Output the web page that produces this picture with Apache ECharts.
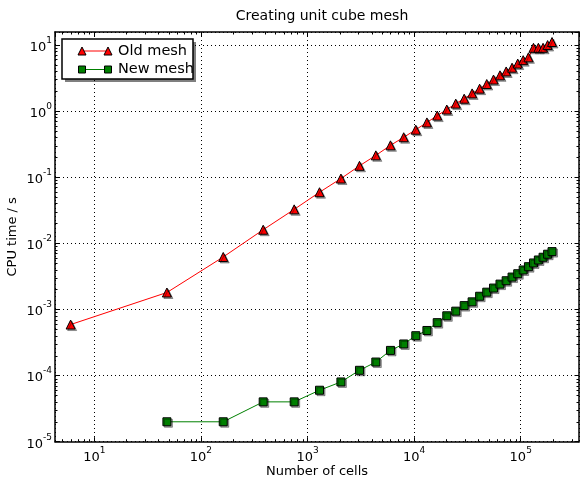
<!DOCTYPE html>
<html><head><meta charset="utf-8">
<script src="https://cdn.jsdelivr.net/npm/echarts@6/dist/echarts.min.js"></script>
<style>html,body{margin:0;padding:0;background:#fff}#c{width:581px;height:480px}</style>
</head><body><div id="c"></div>
<script>
// Number of cells (unit cube meshes)
const oldCells = [6, 48, 162, 384, 750, 1296, 2058, 3072, 4374, 6000, 7986, 10368, 13182, 16464, 20250, 24576, 29478, 34992, 41154, 48000, 55566, 63888, 73002, 82944, 93750, 105456, 118098, 131712, 146334, 162000, 178746, 196608];
const oldTime = [5.9e-4, 1.8e-3, 6.2e-3, 0.016, 0.0325, 0.059, 0.095, 0.148, 0.213, 0.302, 0.40, 0.52, 0.67, 0.85, 1.05, 1.29, 1.53, 1.84, 2.17, 2.55, 2.98, 3.45, 3.95, 4.5, 5.2, 5.85, 6.45, 9.0, 9.0, 9.0, 9.9, 11.0];
const newCells = [48, 162, 384, 750, 1296, 2058, 3072, 4374, 6000, 7986, 10368, 13182, 16464, 20250, 24576, 29478, 34992, 41154, 48000, 55566, 63888, 73002, 82944, 93750, 105456, 118098, 131712, 146334, 162000, 178746, 196608];
const newTime = [2e-5, 2e-5, 4e-5, 4e-5, 6e-5, 8e-5, 1.2e-4, 1.6e-4, 2.4e-4, 3e-4, 4e-4, 4.8e-4, 6.3e-4, 8.0e-4, 9.4e-4, 1.14e-3, 1.3e-3, 1.58e-3, 1.82e-3, 2.1e-3, 2.41e-3, 2.71e-3, 3.08e-3, 3.46e-3, 3.94e-3, 4.42e-3, 5.03e-3, 5.58e-3, 6.14e-3, 6.82e-3, 7.47e-3];
const xTickExps = [1, 2, 3, 4, 5];
const yTickExps = [-5, -4, -3, -2, -1, 0, 1];
const seriesNames = ['Old mesh', 'New mesh'];

(function () {
const X_MIN = 4.28, X_MAX = 3.52e5, Y_MIN = 1e-5, Y_MAX = 15.6;
const FONT = 'DejaVu Sans';

function expLabel(exps) {
  return function (v) {
    const l = Math.log10(v);
    const e = Math.round(l);
    if (Math.abs(l - e) > 1e-6 || exps.indexOf(e) < 0) return '';
    return '{b|10}{s|' + (e < 0 ? '-' : '') + Math.abs(e) + '}';
  };
}
const rich = {
  b: {fontSize: 13, fontFamily: FONT, color: '#000', lineHeight: 18, verticalAlign: 'bottom'},
  s: {fontSize: 9, fontFamily: FONT, color: '#000', lineHeight: 10, verticalAlign: 'top'}
};
const axisLine = {show: true, onZero: false, lineStyle: {color: '#000', width: 1.5}};
const tick = {show: true, inside: true, length: 4.5, lineStyle: {color: '#000', width: 1}};
const split = {show: true, lineStyle: {color: '#000', width: 1, type: [1, 3]}};

const chart = echarts.init(document.getElementById('c'), null, {renderer: 'canvas'});
chart.setOption({
  animation: false,
  backgroundColor: '#fff',
  title: {text: 'Creating unit cube mesh', left: 317, textAlign: 'center', top: 4,
    textStyle: {fontFamily: FONT, fontSize: 14, fontWeight: 'normal', color: '#000'}},
  grid: {left: 55, right: 2, top: 32, bottom: 38.3, containLabel: false, outerBoundsMode: 'none'},
  xAxis: [
    {type: 'log', min: X_MIN, max: X_MAX, logBase: 10, position: 'bottom',
      name: 'Number of cells', nameLocation: 'middle', nameGap: 23, nameMoveOverlap: false,
      nameTextStyle: {fontFamily: FONT, fontSize: 13, color: '#000'},
      axisLine: axisLine, axisTick: tick, splitLine: split,
      axisLabel: {formatter: expLabel(xTickExps), rich: rich, margin: 4, showMinLabel: false, showMaxLabel: false}},
    {type: 'log', min: X_MIN, max: X_MAX, logBase: 10, position: 'top',
      axisLine: axisLine, axisTick: tick, splitLine: {show: false}, axisLabel: {show: false}}
  ],
  yAxis: [
    {type: 'log', min: Y_MIN, max: Y_MAX, logBase: 10, position: 'left',
      name: 'CPU time / s', nameLocation: 'middle', nameGap: 36, nameMoveOverlap: false,
      nameTextStyle: {fontFamily: FONT, fontSize: 13, color: '#000'},
      axisLine: axisLine, axisTick: tick, splitLine: split,
      axisLabel: {formatter: expLabel(yTickExps), rich: rich, margin: 3, showMinLabel: true, showMaxLabel: false}},
    {type: 'log', min: Y_MIN, max: Y_MAX, logBase: 10, position: 'right',
      axisLine: axisLine, axisTick: tick, splitLine: {show: false}, axisLabel: {show: false}}
  ],
  series: [
    {name: seriesNames[0], type: 'line', xAxisIndex: 0, yAxisIndex: 0,
      data: oldCells.map((c, i) => [c, oldTime[i]]),
      symbol: 'triangle', symbolSize: 9, showAllSymbol: true,
      lineStyle: {color: '#ff0000', width: 1},
      itemStyle: {color: '#ff0000', borderColor: '#000', borderWidth: 1,
        shadowColor: 'rgba(0,0,0,0.35)', shadowOffsetX: 1.5, shadowOffsetY: 1.5, shadowBlur: 0}},
    {name: seriesNames[1], type: 'line', xAxisIndex: 0, yAxisIndex: 0,
      data: newCells.map((c, i) => [c, newTime[i]]),
      symbol: 'rect', symbolSize: 8, showAllSymbol: true,
      lineStyle: {color: '#008000', width: 1},
      itemStyle: {color: '#008000', borderColor: '#000', borderWidth: 1,
        shadowColor: 'rgba(0,0,0,0.35)', shadowOffsetX: 1.5, shadowOffsetY: 1.5, shadowBlur: 0}}
  ]
});

// minor ticks (2..9 x 10^k) on all four sides, placed through the axis scales
const g = [];
const pTop = chart.convertToPixel({yAxisIndex: 0}, Y_MAX);
const pBot = chart.convertToPixel({yAxisIndex: 0}, Y_MIN);
const pLft = chart.convertToPixel({xAxisIndex: 0}, X_MIN);
const pRgt = chart.convertToPixel({xAxisIndex: 0}, X_MAX);
const ML = 2.5;
const ls = {stroke: '#000', lineWidth: 1};
for (let k = 0; k <= 5; k++) for (let m = 2; m <= 9; m++) {
  const v = m * Math.pow(10, k);
  if (v <= X_MIN || v >= X_MAX) continue;
  const x = Math.round(chart.convertToPixel({xAxisIndex: 0}, v)) + 0.5;
  g.push({type: 'line', silent: true, shape: {x1: x, y1: pBot, x2: x, y2: pBot - ML}, style: ls, z: 5});
  g.push({type: 'line', silent: true, shape: {x1: x, y1: pTop, x2: x, y2: pTop + ML}, style: ls, z: 5});
}
for (let k = -5; k <= 1; k++) for (let m = 2; m <= 9; m++) {
  const v = m * Math.pow(10, k);
  if (v <= Y_MIN || v >= Y_MAX) continue;
  const y = Math.round(chart.convertToPixel({yAxisIndex: 0}, v)) + 0.5;
  g.push({type: 'line', silent: true, shape: {x1: pLft, y1: y, x2: pLft + ML, y2: y}, style: ls, z: 5});
  g.push({type: 'line', silent: true, shape: {x1: pRgt, y1: y, x2: pRgt - ML, y2: y}, style: ls, z: 5});
}

// legend box (matplotlib style, with shadow)
const LX = 62, LY = 39, LW = 131, LH = 40;
g.push({type: 'rect', shape: {x: LX + 3, y: LY + 3, width: LW, height: LH}, style: {fill: 'rgba(0,0,0,0.5)'}, z: 20});
g.push({type: 'rect', shape: {x: LX, y: LY, width: LW, height: LH}, style: {fill: '#fff', stroke: '#000', lineWidth: 1.5}, z: 21});
function tri(cx, cy, s) {
  return {type: 'polygon', shape: {points: [[cx, cy - s / 2], [cx - s / 2, cy + s / 2], [cx + s / 2, cy + s / 2]]},
    style: {fill: '#ff0000', stroke: '#000', lineWidth: 1}, z: 23};
}
function sq(cx, cy, s) {
  return {type: 'rect', shape: {x: cx - s / 2, y: cy - s / 2, width: s, height: s},
    style: {fill: '#008000', stroke: '#000', lineWidth: 1}, z: 23};
}
const r1 = 51, r2 = 69.5, a = 82, b = 108;
g.push({type: 'line', shape: {x1: a, y1: r1, x2: b, y2: r1}, style: {stroke: '#ff0000', lineWidth: 1}, z: 22});
g.push(tri(a, r1, 8), tri(b, r1, 8));
g.push({type: 'line', shape: {x1: a, y1: r2, x2: b, y2: r2}, style: {stroke: '#008000', lineWidth: 1}, z: 22});
g.push(sq(a, r2, 7), sq(b, r2, 7));
g.push({type: 'text', x: 118, y: r1, style: {text: seriesNames[0], fontFamily: FONT, fontSize: 14.5, fill: '#000', verticalAlign: 'middle'}, z: 23});
g.push({type: 'text', x: 118, y: r2, style: {text: seriesNames[1], fontFamily: FONT, fontSize: 14.5, fill: '#000', verticalAlign: 'middle'}, z: 23});

chart.setOption({graphic: g});
})();
</script>
</body></html>
